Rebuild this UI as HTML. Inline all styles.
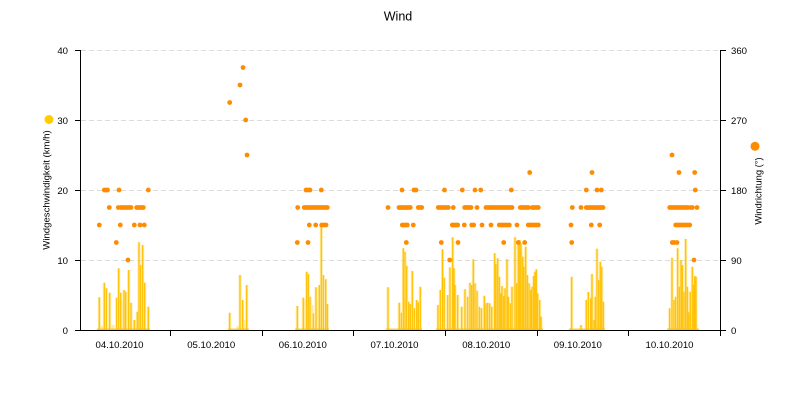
<!DOCTYPE html>
<html><head><meta charset="utf-8"><style>
html,body{margin:0;padding:0;background:#fff;}
svg{display:block;font-family:"Liberation Sans",sans-serif;}
</style></head><body>
<svg width="800" height="400" viewBox="0 0 800 400" xmlns="http://www.w3.org/2000/svg">
<rect width="800" height="400" fill="#fff"/>
<text x="398" y="20.5" font-size="12.5" text-anchor="middle" fill="#000">Wind</text>
<g stroke="#dcdcdc" stroke-width="1" stroke-dasharray="5,3">
<path d="M81 50.5H720M81 120.5H720M81 190.5H720M81 260.5H720"/>
</g>
<g stroke="#ffd54a" stroke-opacity="0.5" stroke-width="3" fill="none">
<path d="M99.3 330V297.3M104.3 330V282.7M106.3 330V288.3M109.7 330V292.7M116.7 330V297.7M118.7 330V268.3M120.7 330V292.7M124 330V290M125.7 330V291.7M128.7 330V270M131 330V302.7M134.3 330V320M137.3 330V311.7M139 330V242.3M140.7 330V265M142.7 330V245M144.7 330V282.7M148.3 330V306.7M121.5 330V300M123 330V305M113 330V325M102 330V326M127 330V300
M229.7 330V312.7M240 330V275M242.7 330V300M246.7 330V285M238 330V326M244 330V320
M297.3 330V306M303.3 330V297.7M306.7 330V271.7M308.3 330V274M310 330V296.7M313.3 330V313.3M316 330V287.3M319.3 330V285M321.3 330V226.7M323.3 330V275M325.7 330V279.3M327.3 330V304M305 330V300M312 330V305M318 330V300M322 330V300
M388 330V287.3M399.3 330V302.7M401.3 330V312.7M403.3 330V248.3M405 330V251.7M406.7 330V265.7M408.7 330V301.7M410.3 330V304M412.3 330V271M414.3 330V308.3M416.7 330V300M418.3 330V302.3M420.3 330V286.7M438 330V305M440.3 330V290M442.5 330V249.3M444.2 330V277.7M447.7 330V295M450 330V267.3M452.7 330V237.3M454 330V268.3
M455 330V285M457.7 330V295M461.7 330V306.7M465 330V289.3M467.7 330V296.7M470 330V282.7M471.7 330V285M473.3 330V259.3M475 330V283.3M477 330V290.7M479.3 330V306.7M481.3 330V308.3M484.3 330V295.7M486 330V303.3M487.7 330V302.7M489.7 330V303.3M491.7 330V306.7M494.7 330V253.3M496 330V264.3M497.7 330V258.3M499.3 330V276.7M500.7 330V293.3M502 330V286M503.7 330V296M505 330V288.3M507 330V259.3M508.3 330V296.7M510.3 330V303.3M512 330V286.7M515 330V237.3M516.7 330V283.3M518.3 330V241.7M519.7 330V240M521 330V243.3M522.7 330V256.7M524 330V266.7M525.7 330V246.7M527.3 330V275M529 330V283.3M530.7 330V290M532 330V286.7M533.7 330V276M535 330V271.7M536.3 330V269.3M537.7 330V293.3M539.7 330V300M541 330V316.7
M571.7 330V276.7M581 330V325M586.3 330V300M588.3 330V292M590.7 330V298.3M592 330V274M594 330V320M595.3 330V296.7M597 330V248.7M598.7 330V280M600.3 330V261.7M601.7 330V266.7M603.3 330V301.7
M669.7 330V308.3M672 330V257.7M674 330V300M675.7 330V296.7M677.7 330V248.3M679.3 330V286.7M681 330V260M682.3 330V265M684 330V291.7M685.7 330V239M687.3 330V286.7M688.7 330V312.3M690.3 330V291.7M692.3 330V266.7M693.7 330V285M694.7 330V276M696 330V276.7"/>
</g>
<g stroke="#ffc000" stroke-width="1.2" fill="none">
<path d="M99.3 330V297.3M104.3 330V282.7M106.3 330V288.3M109.7 330V292.7M116.7 330V297.7M118.7 330V268.3M120.7 330V292.7M124 330V290M125.7 330V291.7M128.7 330V270M131 330V302.7M134.3 330V320M137.3 330V311.7M139 330V242.3M140.7 330V265M142.7 330V245M144.7 330V282.7M148.3 330V306.7
M229.7 330V312.7M240 330V275M242.7 330V300M246.7 330V285
M297.3 330V306M303.3 330V297.7M306.7 330V271.7M308.3 330V274M310 330V296.7M313.3 330V313.3M316 330V287.3M319.3 330V285M321.3 330V226.7M323.3 330V275M325.7 330V279.3M327.3 330V304
M388 330V287.3M399.3 330V302.7M401.3 330V312.7M403.3 330V248.3M405 330V251.7M406.7 330V265.7M408.7 330V301.7M410.3 330V304M412.3 330V271M414.3 330V308.3M416.7 330V300M418.3 330V302.3M420.3 330V286.7M438 330V305M440.3 330V290M442.5 330V249.3M444.2 330V277.7M447.7 330V295M450 330V267.3M452.7 330V237.3M454 330V268.3
M455 330V285M457.7 330V295M461.7 330V306.7M465 330V289.3M467.7 330V296.7M470 330V282.7M471.7 330V285M473.3 330V259.3M475 330V283.3M477 330V290.7M479.3 330V306.7M481.3 330V308.3M484.3 330V295.7M486 330V303.3M487.7 330V302.7M489.7 330V303.3M491.7 330V306.7M494.7 330V253.3M496 330V264.3M497.7 330V258.3M499.3 330V276.7M500.7 330V293.3M502 330V286M503.7 330V296M505 330V288.3M507 330V259.3M508.3 330V296.7M510.3 330V303.3M512 330V286.7M515 330V237.3M516.7 330V283.3M518.3 330V241.7M519.7 330V240M521 330V243.3M522.7 330V256.7M524 330V266.7M525.7 330V246.7M527.3 330V275M529 330V283.3M530.7 330V290M532 330V286.7M533.7 330V276M535 330V271.7M536.3 330V269.3M537.7 330V293.3M539.7 330V300M541 330V316.7
M571.7 330V276.7M581 330V325M586.3 330V300M588.3 330V292M590.7 330V298.3M592 330V274M594 330V320M595.3 330V296.7M597 330V248.7M598.7 330V280M600.3 330V261.7M601.7 330V266.7M603.3 330V301.7
M669.7 330V308.3M672 330V257.7M674 330V300M675.7 330V296.7M677.7 330V248.3M679.3 330V286.7M681 330V260M682.3 330V265M684 330V291.7M685.7 330V239M687.3 330V286.7M688.7 330V312.3M690.3 330V291.7M692.3 330V266.7M693.7 330V285M694.7 330V276M696 330V276.7"/>
<path d="M97 329.2H150M228 329.2H249M295 329.2H329M386 329.2H422M436 329.2H543M569 329.2H605M667 329.2H699" stroke-width="1.2" stroke="#ffc000"/>
</g>
<g stroke="#ff8c00" stroke-width="4.8" stroke-linecap="round" fill="none">
<path d="M104.3 190h0M106 190h0M107.5 190h0M119 190h0M148.3 190h0
M109.3 207.5h0M118.3 207.5h0M121 207.5h0M123.3 207.5h0M125 207.5h0M127 207.5h0M129 207.5h0M131 207.5h0M136.7 207.5h0M138.3 207.5h0M140 207.5h0M141.7 207.5h0M143.3 207.5h0
M99.3 225h0M120.3 225h0M134.3 225h0M140 225h0M144.3 225h0M116.3 242.5h0M128 260h0
M243 67.5h0M240 85h0M229.7 102.5h0M245.7 120h0M247 155h0
M306 190h0M308 190h0M310 190h0M321.3 190h0
M297.7 207.5h0M304.3 207.5h0M306.3 207.5h0M308 207.5h0M309.7 207.5h0M311.3 207.5h0M313.3 207.5h0M315.3 207.5h0M317.3 207.5h0M319.3 207.5h0M321.3 207.5h0M323.3 207.5h0M325.3 207.5h0M327.3 207.5h0
M309.3 225h0M315.7 225h0M321.7 225h0M324 225h0M326 225h0M297.3 242.5h0M308 242.5h0
M402 190h0M414 190h0M416 190h0M444.5 190h0M462.3 190h0
M388 207.5h0M399 207.5h0M400.7 207.5h0M402.3 207.5h0M404 207.5h0M405.7 207.5h0M407.3 207.5h0M409.3 207.5h0M410.3 207.5h0M418.3 207.5h0M420.3 207.5h0M421.7 207.5h0M438.3 207.5h0M440.3 207.5h0M442.5 207.5h0M444.5 207.5h0M446.7 207.5h0M448.3 207.5h0M453.3 207.5h0M464.7 207.5h0M467.3 207.5h0
M402.3 225h0M404 225h0M405.7 225h0M407.3 225h0M413.3 225h0M452.3 225h0M454 225h0M456 225h0M457.7 225h0
M406.3 242.5h0M441.3 242.5h0M458 242.5h0M449.7 260h0
M529.7 172.5h0M475 190h0M480.7 190h0M511.3 190h0
M465 207.5h0M467 207.5h0M469 207.5h0M471 207.5h0M477 207.5h0M486 207.5h0M488 207.5h0M490 207.5h0M492 207.5h0M494 207.5h0M496 207.5h0M498 207.5h0M500 207.5h0M502 207.5h0M504 207.5h0M506 207.5h0M508 207.5h0M510 207.5h0M512 207.5h0M520.3 207.5h0M522.3 207.5h0M524.3 207.5h0M526.3 207.5h0M528.3 207.5h0M532.3 207.5h0M534.3 207.5h0M536.3 207.5h0M538.3 207.5h0
M464.3 225h0M471.7 225h0M473.7 225h0M482 225h0M491 225h0M499.3 225h0M501.3 225h0M503.3 225h0M505.3 225h0M507.3 225h0M509.3 225h0M517 225h0M528.3 225h0M530.3 225h0M532.3 225h0M534.3 225h0M536.3 225h0M538.3 225h0
M503.7 242.5h0M518.3 242.5h0M524.7 242.5h0
M592 172.5h0M586.3 190h0M597 190h0M601.3 190h0
M572.3 207.5h0M581 207.5h0M586.3 207.5h0M588 207.5h0M589.7 207.5h0M591.3 207.5h0M593 207.5h0M594.7 207.5h0M596.3 207.5h0M598 207.5h0M599.7 207.5h0M601.3 207.5h0M603 207.5h0
M571 225h0M591.3 225h0M599.7 225h0M571.7 242.5h0
M672 155h0M679 172.5h0M694.7 172.5h0M695.3 190h0
M669.7 207.5h0M671.7 207.5h0M673.7 207.5h0M675.7 207.5h0M677.7 207.5h0M679.7 207.5h0M681.7 207.5h0M683.7 207.5h0M685.7 207.5h0M687.7 207.5h0M690.7 207.5h0M692.3 207.5h0M697 207.5h0
M675.7 225h0M677.7 225h0M679.7 225h0M681.7 225h0M683.7 225h0M685.7 225h0M687.7 225h0M689.7 225h0
M672.3 242.5h0M674.3 242.5h0M677 242.5h0M694 260h0"/>
</g>
<g stroke="#000" stroke-width="1" fill="none">
<path d="M80.5 50V330.5M720.5 50V330.5M80 330.5H721"/>
<path d="M75 50.5H80M75 120.5H80M75 190.5H80M75 260.5H80M75 330.5H80"/>
<path d="M721 50.5H726M721 120.5H726M721 190.5H726M721 260.5H726M721 330.5H726"/>
<path d="M170.5 331V336M262.5 331V336M353.5 331V336M445.5 331V336M537.5 331V336M628.5 331V336M720.5 331V336"/>
</g>
<g font-size="9.6" fill="#000">
<text x="68" y="54" text-anchor="end">40</text>
<text x="68" y="124" text-anchor="end">30</text>
<text x="68" y="194" text-anchor="end">20</text>
<text x="68" y="264" text-anchor="end">10</text>
<text x="68" y="334" text-anchor="end">0</text>
<text x="731" y="54">360</text>
<text x="731" y="124">270</text>
<text x="731" y="194">180</text>
<text x="731" y="264">90</text>
<text x="731" y="334">0</text>
<g text-anchor="middle">
<text x="119.5" y="348">04.10.2010</text>
<text x="211.2" y="348">05.10.2010</text>
<text x="302.8" y="348">06.10.2010</text>
<text x="394.5" y="348">07.10.2010</text>
<text x="486.2" y="348">08.10.2010</text>
<text x="577.8" y="348">09.10.2010</text>
<text x="669.5" y="348">10.10.2010</text>
</g>
<text transform="translate(49.5,190) rotate(-90)" text-anchor="middle" font-size="9.6">Windgeschwindigkeit (km/h)</text>
<text transform="translate(761.5,191) rotate(-90)" text-anchor="middle" font-size="9.4">Windrichtung (°)</text>
</g>
<circle cx="49" cy="119.5" r="4.5" fill="#ffcc00"/>
<circle cx="755" cy="146.3" r="4.5" fill="#ff8c00"/>
</svg>
</body></html>
